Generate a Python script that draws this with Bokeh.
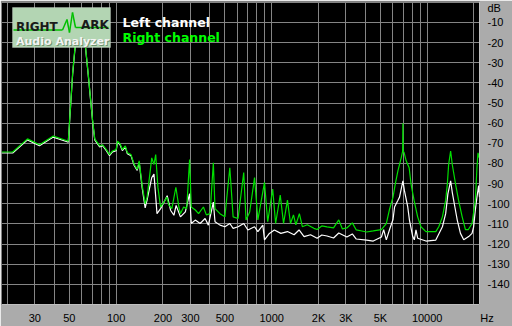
from bokeh.plotting import figure
from bokeh.models import Range1d, FixedTicker, Label, BoxAnnotation, Arrow, Span
from bokeh.embed import file_html
from bokeh.resources import INLINE

# ---- data (frequency in Hz, level in dB) ----
green_f = [18.3, 21.6, 26.9, 32.1, 39.4, 48.3, 49.2, 52.5, 55, 58.5, 62, 66, 70.4, 72.8, 78.3, 81.8,
           86.4, 90.6, 94.7, 100, 101.9, 106, 109.6, 114.5, 118, 124.5, 130.6, 136.5, 140.6, 146.9,
           153.6, 158.1, 169.3, 175, 179.5, 185.6, 193, 202.7, 212, 218, 228, 242, 253, 259, 271.5,
           284, 296.6, 304, 322.6, 338.6, 364, 380, 401.6, 421.5, 432, 465, 500, 538, 565, 608, 661,
           684, 722, 776, 815, 899, 943, 1015, 1060, 1135, 1192, 1263, 1321, 1381, 1430, 1507, 1575,
           1694, 1868, 1960, 2100, 2270, 2500, 2700, 2850, 3043, 3300, 3500, 3800, 4077, 4500, 5078,
           5460, 5710, 6030, 6233, 6487, 6808, 6950, 6980, 7010, 7100, 7325, 7656, 7876, 8230, 8685,
           9117, 9817, 11360, 11870, 12530, 13150, 13480, 13740, 14150, 14500, 15220, 15910, 16790,
           17620, 18410, 19430, 20400, 20900, 21230, 21630]
green_db = [-74.3, -74.3, -67.8, -70.7, -66.4, -68.7, -69.0, -35, -18, -10, -14, -35, -58, -67.8,
            -71.3, -70.7, -73.1, -75.6, -73.8, -73.1, -68.9, -70.3, -73.1, -71.3, -74.7, -75.6,
            -80.5, -82.9, -78.7, -90.9, -100, -96.7, -77.2, -80.5, -75.6, -92, -101.6, -99.2, -96.7,
            -100.6, -102.4, -91.8, -101.6, -104.9, -101.6, -102.4, -78.0, -101.6, -103.1, -104.9,
            -101.6, -105.5, -104.9, -79.6, -102.4, -104.9, -106.5, -82.1, -106.5, -107.3, -84.5,
            -108, -104.1, -87.0, -108, -89.4, -108.9, -92.7, -109.8, -95.7, -109.8, -98.2, -109.8,
            -105.5, -110.5, -104.9, -111.4, -110.4, -112.2, -112.8, -111, -111.5, -112, -108, -112.5,
            -112, -109.5, -113, -113.5, -114, -113.5, -112.8, -109.8, -103.1, -96.7, -90.2, -83.5,
            -77.2, -74, -60, -74, -74.5, -78.7, -82.1, -90.2, -98.2, -106.5, -111.4, -113.8, -113.8,
            -111.4, -106.5, -98.2, -90.2, -80.5, -73.8, -80.5, -90.2, -98.2, -106.5, -112.8, -112.8,
            -109.8, -98.2, -82.1, -74.7, -77.2]

white_f = [18.3, 21.6, 26.9, 32.1, 39.4, 48.3, 49.2, 52.5, 55, 58.5, 62, 66, 70.4, 72.8, 78.3, 81.8,
           86.4, 90.6, 94.7, 100, 101.9, 106, 109.6, 114.5, 118, 124.5, 130.6, 136.5, 140.6, 146.9,
           153.6, 158.1, 169.3, 175, 183, 193, 208, 212.8, 223.7, 235, 242.9, 259, 278.5, 296.6, 304,
           322.6, 346.6, 373, 391.6, 421.5, 432, 465, 500, 538, 565, 608, 661, 703, 776, 815, 877, 899,
           967, 1040, 1146, 1263, 1394, 1500, 1615, 1778, 1960, 2100, 2270, 2500, 2700, 3043, 3300,
           3500, 4077, 4500, 5078, 5250, 5460, 5730, 6030, 6170, 6487, 6640, 6980, 7140, 7500, 7690,
           8075, 8265, 8470, 8685, 9817, 11360, 12530, 13150, 13590, 14150, 14500, 15070, 15610,
           16370, 17180, 18490, 19430, 19900, 20400, 20900, 21420, 21700]
white_db = [-74.8, -74.8, -68.3, -71.2, -66.9, -69.2, -69.5, -35.5, -18.5, -10.5, -14.5, -35.5, -58.5,
            -68.3, -71.8, -71.2, -73.6, -76.1, -74.3, -73.6, -69.4, -70.8, -73.6, -71.8, -75.2, -76.1,
            -81, -83.4, -79.5, -92, -102, -98, -87, -85.3, -104.9, -102.4, -97.6, -96, -103.2, -105.7,
            -100.8, -106.5, -104, -95, -109.8, -108.1, -109.8, -107.3, -110.6, -99.2, -108.9, -110.6,
            -111.4, -109.8, -112.2, -111.4, -109.8, -113, -111.4, -113.8, -110.6, -117.9, -114.7, -113,
            -114.7, -113.8, -115.4, -113, -116.3, -115.4, -117.1, -115.5, -116, -117, -114.5, -116.5,
            -115, -117.5, -118, -118.5, -116.5, -112.8, -117.9, -112.8, -107.8, -101.6, -98.3, -96.7,
            -88.6, -93.5, -101.6, -108.1, -116.3, -117.9, -113, -117.1, -118.5, -118, -111.4, -104.9,
            -95.1, -88.6, -94.3, -101.6, -108.1, -114.7, -117.9, -116.3, -114.7, -111.4, -103.2, -96.7,
            -91, -96.7]

x_ticks = [30, 50, 100, 200, 300, 500, 1000, 2000, 3000, 5000, 10000]
x_tick_labels = ["30", "50", "100", "200", "300", "500", "1000", "2K", "3K", "5K", "10000"]
x_unit_tick, x_unit_label = 21650, "\u00a0\u00a0\u00a0\u00a0\u00a0Hz"
x_grid = [20, 30, 40, 50, 60, 70, 80, 90, 100, 200, 300, 400, 500, 600, 700, 800, 900, 1000,
          2000, 3000, 4000, 5000, 6000, 7000, 8000, 9000, 10000, 20000]
y_ticks = [-10, -20, -30, -40, -50, -60, -70, -80, -90, -100, -110, -120, -130, -140]
y_unit_tick, y_unit_label = -2.6, "dB"
y_grid = [0, -10, -20, -30, -40, -50, -60, -70, -80, -90, -100, -110, -120, -130, -140, -150]

X_MIN, X_MAX = 18.3, 21700
Y_MIN, Y_MAX = -150, 0.4

p = figure(width=512, height=326, x_axis_type="log",
           x_range=Range1d(X_MIN, X_MAX), y_range=Range1d(Y_MIN, Y_MAX),
           y_axis_location="right", output_backend="svg", toolbar_location=None,
           min_border_left=1, min_border_right=27, min_border_top=1, min_border_bottom=17)
p.background_fill_color = "black"
p.border_fill_color = "#ABABAB"
p.outline_line_color = "#808080"

for ax in (p.xaxis[0], p.yaxis[0]):
    ax.axis_line_color = None
    ax.major_tick_line_color = None
    ax.minor_tick_line_color = None
    ax.major_label_text_font = "Liberation Sans"
    ax.major_label_text_font_size = "11px"
    ax.major_label_text_color = "black"

p.xaxis.ticker = FixedTicker(ticks=x_ticks + [x_unit_tick])
ovr = dict(zip(x_ticks, x_tick_labels))
ovr[x_unit_tick] = x_unit_label
p.xaxis.major_label_overrides = ovr
p.xaxis.major_label_standoff = 1
p.yaxis.ticker = FixedTicker(ticks=[y_unit_tick] + y_ticks)
yovr = {t: str(t) for t in y_ticks}
yovr[y_unit_tick] = y_unit_label
p.yaxis.major_label_overrides = yovr
p.yaxis.major_label_standoff = 2

p.xgrid.ticker = FixedTicker(ticks=x_grid)
p.ygrid.ticker = FixedTicker(ticks=y_grid)
for g in (p.xgrid[0], p.ygrid[0]):
    g.grid_line_color = "#858585"
    g.grid_line_width = 1
    g.grid_line_alpha = 1

p.line(white_f, white_db, line_color="white", line_width=1.2)
p.line(green_f, green_db, line_color="#00E000", line_width=1.2)

p.add_layout(Span(location=Y_MIN, dimension="width", line_color="white", line_width=1))
p.add_layout(Span(location=X_MAX, dimension="height", line_color="white", line_width=1))

# logo
p.add_layout(BoxAnnotation(left=11, right=109, top=297, bottom=257,
                           left_units="screen", right_units="screen",
                           top_units="screen", bottom_units="screen",
                           fill_color="#B3D5B3", fill_alpha=1,
                           line_color="#E4E4E4", line_width=1))
wave_x = [12, 61, 65.5, 68, 71, 74, 107]
wave_y = [274.5, 274.5, 285, 272, 292, 277, 277]
for i in range(len(wave_x) - 1):
    p.add_layout(Arrow(end=None, x_start=wave_x[i], y_start=wave_y[i],
                       x_end=wave_x[i + 1], y_end=wave_y[i + 1],
                       start_units="screen", end_units="screen",
                       line_color="#00C000", line_width=1.5))

def lab(text, x, y, color, size, style="bold", font="DejaVu Sans", align="left"):
    p.add_layout(Label(x=x, y=y, x_units="screen", y_units="screen", text=text,
                       text_color=color, text_font=font, text_font_size=size,
                       text_font_style=style, text_baseline="alphabetic", text_align=align))

lab("RIGHT", 14.5, 278, "#1A1A1A", "12px")
lab("ARK", 79.5, 279.5, "#1A1A1A", "12px")
lab("Audio Analyzer", 15.5, 262, "#6F916F", "11px")
lab("Audio Analyzer", 14.5, 263, "#F4F4F4", "11px")
lab("Left channel", 121, 281.7, "white", "12.5px")
lab("Right channel", 121, 267, "#00FF00", "12.5px")

open("out.html", "w").write(file_html(p, INLINE))
